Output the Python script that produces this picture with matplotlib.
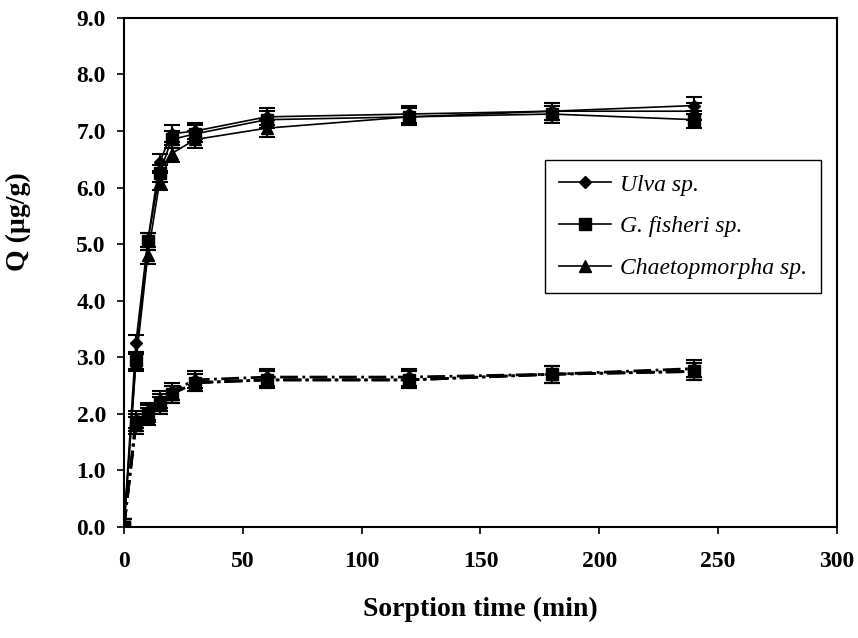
import matplotlib
matplotlib.use('Agg')
import matplotlib.pyplot as plt
from matplotlib.ticker import FormatStrFormatter

time = [0, 5, 10, 15, 20, 30, 60, 120, 180, 240]

# upper group (solid lines)
ulva = [0, 3.25, 5.05, 6.45, 6.95, 7.0, 7.25, 7.3, 7.35, 7.45]
gfish = [0, 2.95, 5.05, 6.25, 6.85, 6.95, 7.2, 7.25, 7.3, 7.2]
chaet = [0, 2.9, 4.8, 6.1, 6.6, 6.85, 7.05, 7.25, 7.35, 7.35]
# lower group (dash-dot lines)
ulva_b = [0, 1.9, 2.05, 2.25, 2.4, 2.6, 2.65, 2.65, 2.7, 2.8]
gfish_b = [0, 1.85, 2.0, 2.2, 2.35, 2.55, 2.6, 2.6, 2.7, 2.75]
chaet_b = [0, 1.8, 1.95, 2.15, 2.35, 2.55, 2.6, 2.6, 2.7, 2.75]
err = 0.15

labels = ['Ulva sp.', 'G. fisheri sp.', 'Chaetopmorpha sp.']
markers = ['D', 's', '^']

plt.rcParams['font.family'] = ['Liberation Serif', 'DejaVu Serif']

fig = plt.figure(figsize=(8.58, 6.38), dpi=100)
ax = fig.add_axes([0.1445, 0.174, 0.831, 0.798])

handles = []
for y, m, lab in zip([ulva, gfish, chaet], markers, labels):
    h = ax.errorbar(time, y, yerr=err, color='black', lw=1.2, marker=m,
                    ms=8 if m != 'D' else 6, capsize=6, elinewidth=1.5,
                    capthick=1.5, label=lab)
    handles.append(h)
for y, m in zip([ulva_b, gfish_b, chaet_b], markers):
    ax.errorbar(time, y, yerr=err, color='black', lw=2, ls='-.', marker=m,
                ms=8 if m != 'D' else 6, capsize=6, elinewidth=1.5,
                capthick=1.5)

ax.set_xlim(0, 300)
ax.set_ylim(0, 9)
ax.set_xticks(range(0, 301, 50))
ax.set_yticks([i for i in range(0, 10)])
ax.yaxis.set_major_formatter(FormatStrFormatter('%.1f'))
ax.tick_params(direction='out', length=5, width=1.2, labelsize=17)
ax.tick_params(axis='x', pad=12)
ax.tick_params(axis='y', pad=8)
for lab in ax.get_xticklabels() + ax.get_yticklabels():
    lab.set_fontweight('bold')
for s in ax.spines.values():
    s.set_linewidth(1.5)

ax.set_xlabel('Sorption time (min)', fontsize=20, fontweight='bold', labelpad=18)
ax.set_ylabel('Q (\u00b5g/g)', fontsize=20, fontweight='bold')
ax.yaxis.set_label_coords(-0.13, 0.6)

leg = ax.legend(handles=[h[0] for h in handles], labels=labels,
                loc='upper right', bbox_to_anchor=(0.978, 0.721),
                borderaxespad=0,
                prop={'style': 'italic', 'size': 17}, fancybox=False,
                edgecolor='black', framealpha=1, handlelength=2.2,
                handletextpad=0.4, labelspacing=0.85, borderpad=0.6)
leg.get_frame().set_linewidth(1.0)

fig.savefig('out.png', dpi=100)
